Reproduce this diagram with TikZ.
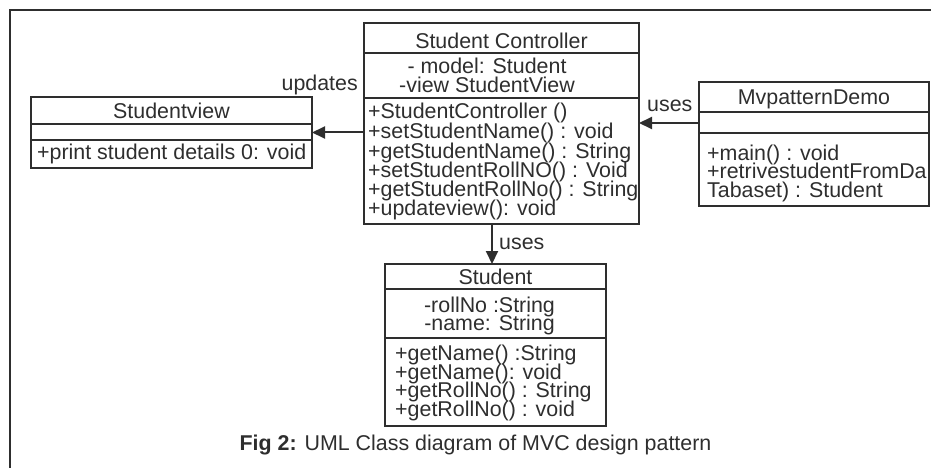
\documentclass[tikz,border=0pt]{standalone}
\usepackage{fontspec}
\setmainfont{Liberation Sans}
\usetikzlibrary{arrows.meta}
\definecolor{ink}{HTML}{2E2E2E}
\begin{document}
\begin{tikzpicture}[x=1pt,y=-1pt,
  box/.style={draw=ink,line width=2pt,inner sep=0,outer sep=0,anchor=north west},
  div/.style={draw=ink,line width=2pt},
  txt/.style={inner sep=0,text=ink,font=\fontsize{21.4}{19}\selectfont},
  lw/.style={txt,anchor=base west},
  lc/.style={txt,anchor=base},
  arr/.style={draw=ink,line width=2pt,-{Triangle[length=13pt,width=12pt]}}]
\useasboundingbox (0,0) rectangle (931,468);
% frame
\draw[ink,line width=2pt] (10,468) -- (10,10) -- (931,10);
% boxes
\node[box,minimum width=281pt,minimum height=71pt] (view) at (31,97) {};
\node[box,minimum width=275pt,minimum height=201pt] (ctrl) at (364,23) {};
\node[box,minimum width=230pt,minimum height=124pt] (demo) at (699,82) {};
\node[box,minimum width=221pt,minimum height=162pt] (stud) at (385,264) {};
% dividers
\draw[div] ([yshift=-27pt]view.north west) -- ([yshift=-27pt]view.north east);
\draw[div] ([yshift=-43pt]view.north west) -- ([yshift=-43pt]view.north east);
\draw[div] ([yshift=-30pt]ctrl.north west) -- ([yshift=-30pt]ctrl.north east);
\draw[div] ([yshift=-75pt]ctrl.north west) -- ([yshift=-75pt]ctrl.north east);
\draw[div] ([yshift=-30pt]demo.north west) -- ([yshift=-30pt]demo.north east);
\draw[div] ([yshift=-51pt]demo.north west) -- ([yshift=-51pt]demo.north east);
\draw[div] ([yshift=-25pt]stud.north west) -- ([yshift=-25pt]stud.north east);
\draw[div] ([yshift=-74pt]stud.north west) -- ([yshift=-74pt]stud.north east);
% Studentview
\node[lc] (vt) at (171.5,118.5) {Studentview};
\node[lw] (vm) at (37,159.5) {+print student details 0: void};
% Controller
\node[lc] (ct) at (501.5,48.5) {Student Controller};
\node[lc] (ca1) at (487,74) {- model: Student};
\node[lc] (ca2) at (487,93) {-view StudentView};
\node[lw] (cm1) at (368,119) {+StudentController ()};
\node[lw] (cm2) at (368,138.5) {+setStudentName() : void};
\node[lw] (cm3) at (368,158) {+getStudentName() : String};
\node[lw] (cm4) at (368,177) {+setStudentRollNO() : Void};
\node[lw] (cm5) at (368,196.5) {+getStudentRollNo() : String};
\node[lw] (cm6) at (368,215.5) {+updateview(): void};
% Demo
\node[lc] (dt) at (814,104.5) {MvpatternDemo};
\node[lw] (dm1) at (707,160.5) {+main() : void};
\node[lw] (dm2) at (707,178.5) {+retrivestudentFromDa};
\node[lw] (dm3) at (707,197) {Tabaset) : Student};
% Student
\node[lc] (st) at (495.5,284.5) {Student};
\node[lc] (sa1) at (489.5,312.5) {-rollNo :String};
\node[lc] (sa2) at (489.5,330.5) {-name: String};
\node[lw] (sm1) at (395,360.5) {+getName() :String};
\node[lw] (sm2) at (395,379) {+getName(): void};
\node[lw] (sm3) at (395,397.5) {+getRollNo() : String};
\node[lw] (sm4) at (395,416) {+getRollNo() : void};
% connectors
\draw[arr] (ctrl.west |- view.east) -- (view.east);
\draw[arr] ([yshift=21pt]demo.west) coordinate (d1) -- (ctrl.east |- d1);
\draw[arr] ([xshift=-9.5pt]ctrl.south) coordinate (c1) -- (c1 |- stud.north);
% labels
\node[txt,anchor=base east] (lup) at (358,90.5) {updates};
\node[lw] (lus1) at (647,111.5) {uses};
\node[lw] (lus2) at (499,249) {uses};
% caption
\node[lc] (cap) at (475.5,450) {\textbf{Fig 2:} UML Class diagram of MVC design pattern};
\end{tikzpicture}
\end{document}
